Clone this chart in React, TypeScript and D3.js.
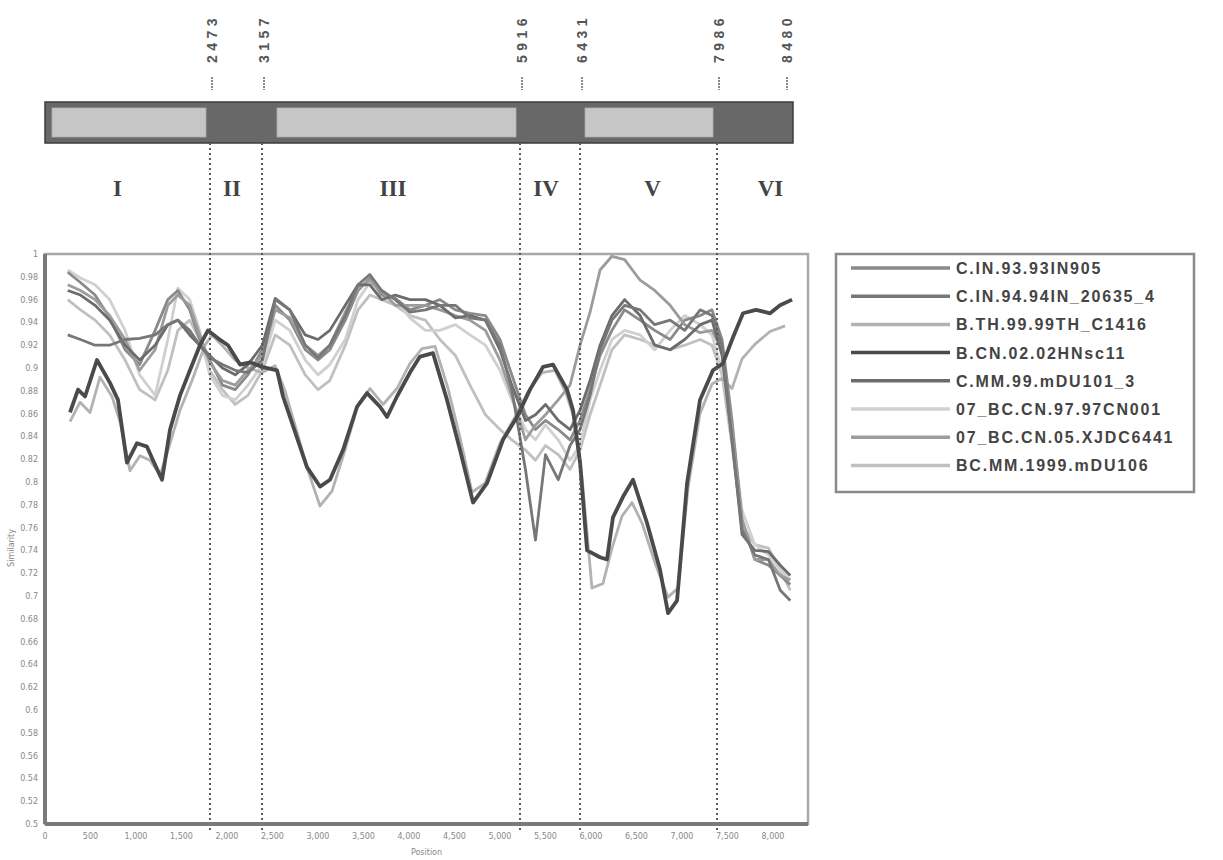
import React from "react";
import * as d3 from "d3";

// ---------- data ----------
const seriesNames = [
  "C.IN.93.93IN905",
  "C.IN.94.94IN_20635_4",
  "B.TH.99.99TH_C1416",
  "B.CN.02.02HNsc11",
  "C.MM.99.mDU101_3",
  "07_BC.CN.97.97CN001",
  "07_BC.CN.05.XJDC6441",
  "BC.MM.1999.mDU106",
];

const sharedPositions = [250, 390, 550, 710, 880, 1040, 1210, 1350, 1460, 1590, 1700, 1810, 1950, 2090, 2230, 2390, 2530, 2690, 2860, 3000, 3130, 3300, 3440, 3570, 3700, 3850, 4010, 4180, 4340, 4510, 4670, 4840, 5000, 5130, 5280, 5390, 5500, 5640, 5770, 5880, 5990, 6100, 6230, 6370, 6540, 6700, 6870, 7030, 7200, 7330, 7440, 7550, 7660, 7800, 7950, 8080, 8190];

const cIn93 = [0.984, 0.975, 0.964, 0.944, 0.916, 0.903, 0.933, 0.96, 0.968, 0.951, 0.925, 0.907, 0.885, 0.881, 0.894, 0.916, 0.955, 0.942, 0.916, 0.907, 0.916, 0.942, 0.968, 0.979, 0.964, 0.961, 0.951, 0.955, 0.96, 0.951, 0.948, 0.946, 0.925, 0.894, 0.859, 0.846, 0.854, 0.846, 0.837, 0.854, 0.881, 0.911, 0.933, 0.951, 0.942, 0.933, 0.925, 0.942, 0.946, 0.951, 0.925, 0.854, 0.767, 0.732, 0.727, 0.718, 0.71];
const cIn94 = [0.929, 0.925, 0.92, 0.92, 0.925, 0.926, 0.929, 0.938, 0.942, 0.933, 0.92, 0.909, 0.903, 0.898, 0.896, 0.907, 0.96, 0.951, 0.92, 0.909, 0.92, 0.946, 0.973, 0.982, 0.968, 0.96, 0.949, 0.951, 0.955, 0.955, 0.944, 0.942, 0.92, 0.881, 0.811, 0.749, 0.824, 0.802, 0.832, 0.846, 0.876, 0.916, 0.942, 0.955, 0.951, 0.938, 0.942, 0.933, 0.951, 0.946, 0.92, 0.837, 0.758, 0.736, 0.732, 0.705, 0.696];
const cMm99 = [0.968, 0.964, 0.955, 0.942, 0.92, 0.907, 0.92, 0.938, 0.942, 0.929, 0.92, 0.911, 0.9, 0.894, 0.903, 0.92, 0.961, 0.951, 0.929, 0.925, 0.933, 0.955, 0.973, 0.973, 0.96, 0.964, 0.96, 0.96, 0.955, 0.944, 0.946, 0.942, 0.916, 0.885, 0.854, 0.859, 0.868, 0.854, 0.846, 0.863, 0.889, 0.92, 0.946, 0.96, 0.946, 0.92, 0.916, 0.925, 0.938, 0.942, 0.911, 0.837, 0.754, 0.74, 0.739, 0.727, 0.718];
const bcCn97 = [0.986, 0.979, 0.973, 0.96, 0.933, 0.894, 0.876, 0.925, 0.97, 0.96, 0.933, 0.894, 0.876, 0.872, 0.885, 0.903, 0.942, 0.933, 0.907, 0.894, 0.903, 0.925, 0.96, 0.975, 0.968, 0.96, 0.944, 0.933, 0.933, 0.938, 0.929, 0.92, 0.898, 0.872, 0.846, 0.837, 0.85, 0.837, 0.819, 0.832, 0.872, 0.898, 0.925, 0.933, 0.929, 0.916, 0.933, 0.946, 0.938, 0.929, 0.898, 0.846, 0.775, 0.745, 0.736, 0.723, 0.714];
const bcCn05 = [0.973, 0.968, 0.96, 0.946, 0.925, 0.898, 0.916, 0.955, 0.964, 0.955, 0.929, 0.905, 0.889, 0.885, 0.898, 0.911, 0.951, 0.944, 0.92, 0.911, 0.92, 0.949, 0.97, 0.977, 0.967, 0.955, 0.955, 0.955, 0.951, 0.946, 0.942, 0.933, 0.907, 0.876, 0.837, 0.85, 0.859, 0.872, 0.885, 0.92, 0.949, 0.986, 0.998, 0.995, 0.977, 0.968, 0.955, 0.938, 0.931, 0.933, 0.916, 0.846, 0.767, 0.732, 0.732, 0.718, 0.714];
const bcMm1999 = [0.96, 0.951, 0.942, 0.929, 0.907, 0.881, 0.872, 0.898, 0.933, 0.942, 0.925, 0.898, 0.881, 0.868, 0.876, 0.898, 0.929, 0.92, 0.894, 0.881, 0.889, 0.92, 0.951, 0.964, 0.96, 0.955, 0.946, 0.942, 0.925, 0.911, 0.885, 0.859, 0.846, 0.837, 0.828, 0.819, 0.832, 0.824, 0.811, 0.828, 0.859, 0.885, 0.916, 0.929, 0.925, 0.92, 0.916, 0.92, 0.925, 0.92, 0.894, 0.832, 0.762, 0.745, 0.742, 0.723, 0.705];

const bThPositions = [275, 385, 495, 604, 736, 824, 934, 1044, 1154, 1264, 1352, 1484, 1616, 1758, 1835, 1945, 2088, 2231, 2385, 2528, 2638, 2769, 2890, 3022, 3154, 3297, 3440, 3572, 3715, 3868, 4011, 4143, 4286, 4429, 4561, 4693, 4836, 5000, 5165, 5308, 5462, 5605, 5726, 5814, 5902, 6011, 6132, 6231, 6341, 6451, 6561, 6704, 6847, 6957, 7067, 7198, 7330, 7440, 7550, 7660, 7803, 7968, 8133];
const bThValues = [0.853, 0.87, 0.861, 0.892, 0.875, 0.853, 0.81, 0.823, 0.819, 0.806, 0.828, 0.863, 0.889, 0.92, 0.929, 0.92, 0.907, 0.9, 0.896, 0.902, 0.88, 0.844, 0.81, 0.779, 0.792, 0.828, 0.868, 0.882, 0.868, 0.882, 0.904, 0.917, 0.919, 0.882, 0.839, 0.791, 0.799, 0.834, 0.857, 0.879, 0.896, 0.898, 0.878, 0.856, 0.804, 0.707, 0.711, 0.742, 0.77, 0.782, 0.764, 0.729, 0.699, 0.707, 0.795, 0.86, 0.886, 0.891, 0.882, 0.908, 0.921, 0.932, 0.937];

const bCnPositions = [275, 363, 440, 571, 714, 802, 901, 1011, 1121, 1187, 1286, 1374, 1484, 1593, 1703, 1791, 1901, 2011, 2143, 2253, 2385, 2550, 2616, 2769, 2879, 3022, 3132, 3275, 3429, 3539, 3682, 3759, 3868, 4011, 4121, 4264, 4418, 4561, 4704, 4858, 5033, 5187, 5330, 5473, 5583, 5737, 5803, 5880, 5957, 6099, 6176, 6242, 6352, 6462, 6616, 6759, 6847, 6946, 7056, 7198, 7341, 7451, 7561, 7671, 7814, 7968, 8078, 8210];
const bCnValues = [0.861, 0.881, 0.875, 0.907, 0.887, 0.872, 0.817, 0.834, 0.831, 0.819, 0.802, 0.846, 0.876, 0.898, 0.92, 0.933, 0.926, 0.92, 0.903, 0.905, 0.901, 0.898, 0.875, 0.839, 0.813, 0.796, 0.802, 0.828, 0.866, 0.878, 0.866, 0.857, 0.875, 0.896, 0.91, 0.913, 0.872, 0.828, 0.782, 0.799, 0.837, 0.857, 0.881, 0.901, 0.903, 0.881, 0.863, 0.817, 0.74, 0.734, 0.732, 0.769, 0.787, 0.802, 0.764, 0.723, 0.685, 0.696, 0.799, 0.872, 0.898, 0.904, 0.927, 0.948, 0.951, 0.948, 0.955, 0.96];

const breakpointPositions = [1813, 2385, 5220, 5880, 7385];
const breakpointLabels = ["2473", "3157", "5916", "6431", "7986"];
const fragmentEnd = 8220;
const fragmentEndLabel = "8480";
const regionNames = ["I", "II", "III", "IV", "V", "VI"];
const regionIsLight = [true, false, true, false, true, false];
const xTickValues = d3.range(0, 8001, 500);
const yTickValues = d3.range(0, 26).map((i) => +(0.5 + i * 0.02).toFixed(2));

// ---------- styles ----------
const seriesColors = ["#8a8a8a", "#777777", "#b2b2b2", "#4a4a4a", "#6c6c6c", "#d0d0d0", "#9c9c9c", "#c0c0c0"];
const seriesWidths = [2.8, 2.8, 2.8, 3.8, 2.8, 2.8, 2.8, 2.8];
const drawOrder = [7, 5, 2, 0, 6, 4, 1, 3];

const W = 1223, H = 860;
const plot = { left: 45, right: 808, top: 254, bottom: 824 };

export default function App() {
  const x = d3.scaleLinear().domain([0, 8385]).range([plot.left, plot.right]);
  const y = d3.scaleLinear().domain([0.5, 1.0]).range([plot.bottom, plot.top]);

  const series = [
    sharedPositions.map((p, i) => [p, cIn93[i]]),
    sharedPositions.map((p, i) => [p, cIn94[i]]),
    bThPositions.map((p, i) => [p, bThValues[i]]),
    bCnPositions.map((p, i) => [p, bCnValues[i]]),
    sharedPositions.map((p, i) => [p, cMm99[i]]),
    sharedPositions.map((p, i) => [p, bcCn97[i]]),
    sharedPositions.map((p, i) => [p, bcCn05[i]]),
    sharedPositions.map((p, i) => [p, bcMm1999[i]]),
  ];

  const line = d3
    .line<number[]>()
    .x((d) => x(d[0]))
    .y((d) => y(d[1]))
    .curve(d3.curveLinear);

  const bounds = [0, ...breakpointPositions, fragmentEnd];
  const barTop = 102, barBottom = 143;
  const regionEnds = [0, ...breakpointPositions, 8385];
  const numeralShift = [-10, -4, 2, -4, 4, 8];

  const yFmt = (v: number) => {
    if (Math.abs(v - 1) < 1e-9) return "1";
    return d3.format(".2~f")(v);
  };

  return (
    <svg
      width={W}
      height={H}
      style={{ position: "absolute", left: 0, top: 0, background: "#fff" }}
      fontFamily="'Liberation Sans', Arial, sans-serif"
    >
      <defs>
        <clipPath id="plotClip">
          <rect x={plot.left} y={plot.top} width={plot.right - plot.left} height={plot.bottom - plot.top} />
        </clipPath>
      </defs>

      {/* top labels */}
      {[...breakpointPositions, fragmentEnd].map((p, i) => {
        const label = i < breakpointLabels.length ? breakpointLabels[i] : fragmentEndLabel;
        const cx = x(p) + (i < breakpointLabels.length ? 2 : -6);
        return (
          <g key={"tl" + i}>
            <text
              transform={`translate(${cx + 5},63) rotate(-90)`}
              fontSize={14}
              fontWeight="bold"
              letterSpacing={4.5}
              fill="#555"
            >
              {label}
            </text>
            <line x1={cx} x2={cx} y1={77} y2={90} stroke="#888" strokeWidth={2} strokeDasharray="2 1" />
          </g>
        );
      })}

      {/* genome bar */}
      <rect x={x(0)} y={barTop} width={x(fragmentEnd) - x(0)} height={barBottom - barTop} fill="#686868" stroke="#3c3c3c" strokeWidth={1.5} />
      {regionNames.map((r, i) => {
        if (!regionIsLight[i]) return null;
        const x0 = x(bounds[i]) + (i === 0 ? 7 : i === 2 ? 15 : 5);
        const x1 = x(bounds[i + 1]) - 4;
        return <rect key={"lr" + i} x={x0} y={barTop + 6} width={x1 - x0} height={barBottom - barTop - 12} fill="#c6c6c6" stroke="#b0b0b0" strokeWidth={0.8} />;
      })}

      {/* roman numerals */}
      {regionNames.map((r, i) => (
        <text
          key={"rn" + i}
          x={(x(regionEnds[i]) + x(regionEnds[i + 1])) / 2 + numeralShift[i]}
          y={196}
          textAnchor="middle"
          fontFamily="'Liberation Serif', 'Times New Roman', serif"
          fontWeight="bold"
          fontSize={23}
          fill="#444"
        >
          {r}
        </text>
      ))}

      {/* plot frame */}
      <rect x={plot.left} y={plot.top} width={plot.right - plot.left} height={plot.bottom - plot.top} fill="none" stroke="#a8a8a8" strokeWidth={2.5} />

      {/* series */}
      <g clipPath="url(#plotClip)">
        {drawOrder.map((k) => (
          <path key={"s" + k} d={line(series[k] as number[][]) || ""} fill="none" stroke={seriesColors[k]} strokeWidth={seriesWidths[k]} strokeLinejoin="round" />
        ))}
      </g>

      {/* breakpoint dashed lines */}
      {breakpointPositions.map((p, i) => (
        <line key={"bp" + i} x1={x(p)} x2={x(p)} y1={barBottom} y2={plot.bottom + 8} stroke="#5a5a5a" strokeWidth={2} strokeDasharray="2 3" />
      ))}

      {/* axes lines */}
      <line x1={plot.left} x2={plot.left} y1={plot.top} y2={plot.bottom} stroke="#7a7a7a" strokeWidth={4} />
      <line x1={plot.left} x2={plot.right} y1={plot.bottom} y2={plot.bottom} stroke="#7a7a7a" strokeWidth={4} />

      {/* y tick labels */}
      {yTickValues.map((v) => (
        <text key={"yt" + v} x={38} y={y(v) + 3} textAnchor="end" fontSize={8} fill="#888" fontFamily="'DejaVu Sans', sans-serif">
          {yFmt(v)}
        </text>
      ))}
      <text transform={`translate(14,548) rotate(-90)`} textAnchor="middle" fontSize={8} fill="#888" fontFamily="'DejaVu Sans', sans-serif">
        Similarity
      </text>

      {/* x tick labels */}
      {xTickValues.map((v) => (
        <text key={"xt" + v} x={x(v)} y={839} textAnchor="middle" fontSize={8} fill="#888" fontFamily="'DejaVu Sans', sans-serif">
          {d3.format(",")(v)}
        </text>
      ))}
      <text x={(plot.left + plot.right) / 2} y={855} textAnchor="middle" fontSize={8} fill="#888" fontFamily="'DejaVu Sans', sans-serif">
        Position
      </text>

      {/* legend */}
      <rect x={836} y={254} width={358} height={238} fill="#fff" stroke="#8a8a8a" strokeWidth={2.5} />
      {seriesNames.map((n, i) => {
        const cy = 268 + i * 28.2;
        return (
          <g key={"lg" + i}>
            <line x1={851} x2={950} y1={cy} y2={cy} stroke={seriesColors[i]} strokeWidth={3.5} />
            <text x={956} y={cy + 6} fontSize={16} fontWeight="bold" letterSpacing={1.8} fill="#444">
              {n}
            </text>
          </g>
        );
      })}
    </svg>
  );
}
